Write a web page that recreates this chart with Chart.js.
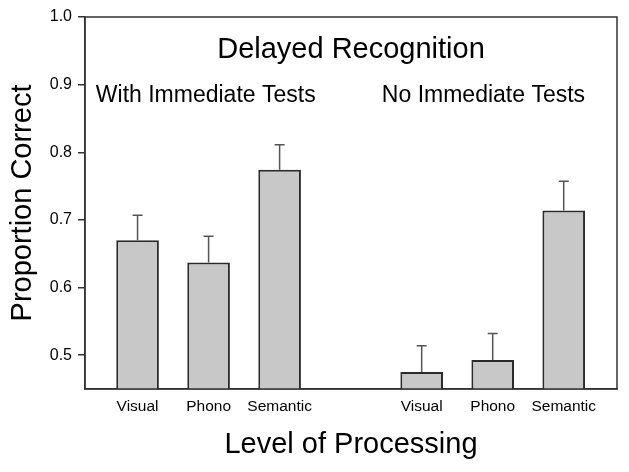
<!DOCTYPE html>
<html>
<head>
<meta charset="utf-8">
<script src="https://cdn.jsdelivr.net/npm/chart.js@4"></script>
<style>
  body { margin: 0; background: #fff; }
  canvas { display: block; }
</style>
</head>
<body>
<canvas id="myChart" width="629" height="472"></canvas>
<script>
  // data
  const conditions = ["Visual", "Phono", "Semantic", "Visual", "Phono", "Semantic"];
  const slots = [0, 1, 2, 4, 5, 6];            // position of each bar, gap between the two groups
  const means = [0.670, 0.637, 0.774, 0.475, 0.493, 0.714];
  const errors = [0.037, 0.039, 0.037, 0.039, 0.039, 0.043];
  const yTicks = [0.5, 0.6, 0.7, 0.8, 0.9, 1.0];
  const groupLabels = ["With Immediate Tests", "No Immediate Tests"];
  const chartTitle = "Delayed Recognition";

  const font = "'Liberation Sans', Arial, sans-serif";
  const lineColor = "#333";

  // error bars (upper only) drawn through the scales
  const errorBars = {
    id: "errorBars",
    afterDatasetsDraw(chart) {
      const ctx = chart.ctx;
      const x = chart.scales.x, y = chart.scales.y;
      ctx.save();
      ctx.strokeStyle = "#555";
      ctx.lineWidth = 1.5;
      for (let i = 0; i < means.length; i++) {
        const px = x.getPixelForValue(slots[i]);
        const top = y.getPixelForValue(means[i]);
        const end = y.getPixelForValue(means[i] + errors[i]);
        ctx.beginPath();
        ctx.moveTo(px, top);
        ctx.lineTo(px, end);
        ctx.moveTo(px - 5, end);
        ctx.lineTo(px + 5, end);
        ctx.stroke();
      }
      ctx.restore();
    }
  };

  // box round the plot plus the texts inside it
  const frameAndText = {
    id: "frameAndText",
    afterDraw(chart) {
      const ctx = chart.ctx;
      const a = chart.chartArea;
      const x = chart.scales.x, y = chart.scales.y;
      ctx.save();
      ctx.strokeStyle = lineColor;
      ctx.lineWidth = 1.5;
      ctx.strokeRect(a.left, a.top, a.right - a.left, a.bottom - a.top);

      ctx.fillStyle = "#000";
      ctx.textAlign = "center";
      ctx.textBaseline = "alphabetic";
      ctx.font = "29px " + font;
      ctx.fillText(chartTitle, (a.left + a.right) / 2, y.getPixelForValue(0.939));
      ctx.font = "23px " + font;
      ctx.fillText(groupLabels[0], x.getPixelForValue(0.96), y.getPixelForValue(0.874));
      ctx.fillText(groupLabels[1], x.getPixelForValue(4.87), y.getPixelForValue(0.874));
      ctx.restore();
    }
  };

  const data = {
    datasets: [{
      data: slots.map((s, i) => ({ x: s, y: means[i] })),
      backgroundColor: "#c8c8c8",
      borderColor: "#2a2a2a",
      borderWidth: 2,
      borderSkipped: "bottom",
      barPercentage: 0.6,
      categoryPercentage: 1
    }]
  };

  const config = {
    type: "bar",
    data: data,
    options: {
      responsive: false,
      animation: false,
      layout: { padding: { left: 0, right: 12, top: 17, bottom: 0 } },
      plugins: {
        legend: { display: false },
        tooltip: { enabled: false }
      },
      scales: {
        x: {
          type: "linear",
          offset: false,
          min: -0.74,
          max: 6.75,
          afterBuildTicks: (scale) => { scale.ticks = slots.map(v => ({ value: v })); },
          afterFit: (scale) => { scale.height = 83; },
          ticks: {
            autoSkip: false,
            maxRotation: 0,
            padding: 8,
            color: "#000",
            font: { family: font, size: 15.5 },
            callback: (value, index) => conditions[index]
          },
          grid: { display: true, offset: false, drawOnChartArea: false, drawTicks: false },
          border: { display: true, color: lineColor, width: 1.5 },
          title: {
            display: true,
            text: "Level of Processing",
            color: "#000",
            font: { family: font, size: 29 },
            padding: { top: 0, bottom: 10 }
          }
        },
        y: {
          min: 0.45,
          max: 1.0,
          afterBuildTicks: (scale) => { scale.ticks = yTicks.map(v => ({ value: v })); },
          afterFit: (scale) => { scale.width = 85; },
          ticks: {
            padding: 6,
            color: "#000",
            font: { family: font, size: 16 },
            callback: (value) => value.toFixed(1)
          },
          grid: { drawOnChartArea: false, drawTicks: true, tickLength: 7, color: lineColor, lineWidth: 1.5 },
          border: { display: true, color: lineColor, width: 1.5 },
          title: {
            display: true,
            text: "Proportion Correct",
            color: "#000",
            font: { family: font, size: 29 },
            padding: { top: 6, bottom: 0 }
          }
        }
      }
    },
    plugins: [errorBars, frameAndText]
  };

  var myChart = new Chart(document.getElementById("myChart"), config);
</script>
</body>
</html>
